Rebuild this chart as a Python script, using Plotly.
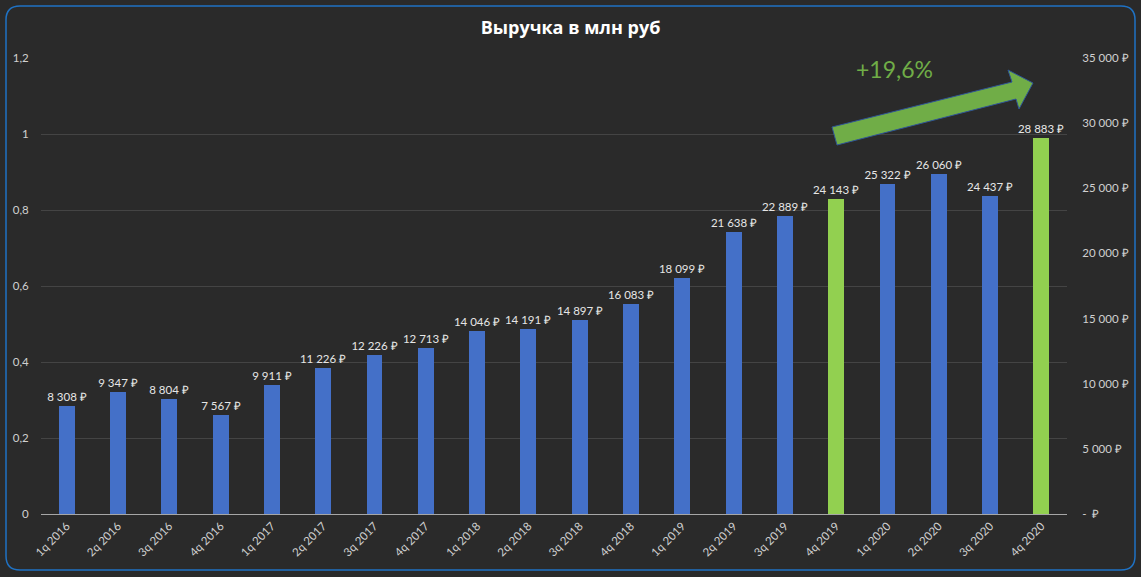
import plotly.graph_objects as go

categories = ["1q 2016", "2q 2016", "3q 2016", "4q 2016",
              "1q 2017", "2q 2017", "3q 2017", "4q 2017",
              "1q 2018", "2q 2018", "3q 2018", "4q 2018",
              "1q 2019", "2q 2019", "3q 2019", "4q 2019",
              "1q 2020", "2q 2020", "3q 2020", "4q 2020"]
revenue = [8308, 9347, 8804, 7567, 9911, 11226, 12226, 12713, 14046, 14191,
           14897, 16083, 18099, 21638, 22889, 24143, 25322, 26060, 24437, 28883]
highlight = ["4q 2019", "4q 2020"]
left_ticks = [0, 0.2, 0.4, 0.6, 0.8, 1.0, 1.2]
right_tickvals = [0, 5000, 10000, 15000, 20000, 25000, 30000, 35000]
right_ticktext = ["-  ₽", "5 000 ₽", "10 000 ₽", "15 000 ₽", "20 000 ₽",
                  "25 000 ₽", "30 000 ₽", "35 000 ₽"]
growth_label = "+19,6%"
title_text = "Выручка в млн руб"

W, H = 1141, 577
L, R, T, B = 41, 74, 58, 63
BLUE = "#4470c8"
GREEN = "#92d050"
BG = "#2a2a2a"
FONT = "Lato"


def px(x):
    return (x - L) / (W - L - R)


def py(y):
    return (H - B - y) / (H - T - B)


colors = [GREEN if c in highlight else BLUE for c in categories]

fig = go.Figure()
# invisible trace for left axis
fig.add_trace(go.Scatter(x=categories, y=[None] * len(categories), yaxis="y",
                         showlegend=False, hoverinfo="skip"))
fig.add_trace(go.Bar(
    x=categories, y=revenue, yaxis="y2",
    marker=dict(color=colors, line=dict(width=0)),
    width=0.31,
    texttemplate="%{y:,.0f} ₽", textposition="outside",
    constraintext="none",
    textfont=dict(family=FONT, size=11.5, color="#e6e6e6"),
    cliponaxis=False, showlegend=False,
))

# rounded border
x0, y0, x1, y1, r = 6, 6, 1135, 570, 14
path = (f"M {px(x0 + r)},{py(y0)} L {px(x1 - r)},{py(y0)} "
        f"Q {px(x1)},{py(y0)} {px(x1)},{py(y0 + r)} "
        f"L {px(x1)},{py(y1 - r)} Q {px(x1)},{py(y1)} {px(x1 - r)},{py(y1)} "
        f"L {px(x0 + r)},{py(y1)} Q {px(x0)},{py(y1)} {px(x0)},{py(y1 - r)} "
        f"L {px(x0)},{py(y0 + r)} Q {px(x0)},{py(y0)} {px(x0 + r)},{py(y0)} Z")

arrow_pts = [(832, 127), (1012, 82), (1008, 70), (1033, 83),
             (1019, 109), (1016, 99), (837, 145)]
arrow_path = "M " + " L ".join(f"{px(a)},{py(b)}" for a, b in arrow_pts) + " Z"

fig.update_layout(
    width=W, height=H,
    margin=dict(l=L, r=R, t=T, b=B, autoexpand=False),
    paper_bgcolor=BG, plot_bgcolor=BG,
    separators=", ",
    font=dict(family=FONT, color="#d9d9d9", size=11),
    title=dict(text=f"<b>{title_text}</b>", x=0.5, xanchor="center",
               y=1 - 28 / H, yanchor="middle",
               font=dict(family="Open Sans", size=18, color="#ffffff")),
    bargap=0,
    xaxis=dict(type="category", tickangle=-45, showgrid=False,
               showline=True, linecolor="#a6a6a6", linewidth=1,
               ticks="", tickfont=dict(size=11.5, color="#d0d0d0"),
               zeroline=False, automargin=False),
    yaxis=dict(range=[0, 1.2], tickvals=left_ticks, showgrid=True,
               gridcolor="#444444", gridwidth=1, zeroline=False,
               ticks="outside", ticklen=9, tickcolor="rgba(0,0,0,0)",
               tickfont=dict(size=11.5, color="#d0d0d0"), showline=False,
               automargin=False),
    yaxis2=dict(range=[0, 35000], overlaying="y", side="right",
                tickvals=right_tickvals, ticktext=right_ticktext,
                showgrid=False, zeroline=False,
                ticks="outside", ticklen=12, tickcolor="rgba(0,0,0,0)",
                tickfont=dict(size=11.5, color="#d0d0d0"), automargin=False),
    shapes=[
        dict(type="path", xref="paper", yref="paper", path=path,
             line=dict(color="#1f72c4", width=1.5), layer="above"),
        dict(type="path", xref="paper", yref="paper", path=arrow_path,
             fillcolor="#70ad47", line=dict(color="#2f5597", width=1),
             layer="above"),
    ],
    annotations=[
        dict(text=growth_label, xref="paper", yref="paper",
             x=px(894), y=py(69), xanchor="center", yanchor="middle",
             showarrow=False,
             font=dict(family=FONT, size=23, color="#70ad47")),
    ],
)

fig.write_html("out.html",
               config={"displayModeBar": False},
               post_script="document.body.style.margin='0';"
                           "document.body.style.background='#2a2a2a';")
